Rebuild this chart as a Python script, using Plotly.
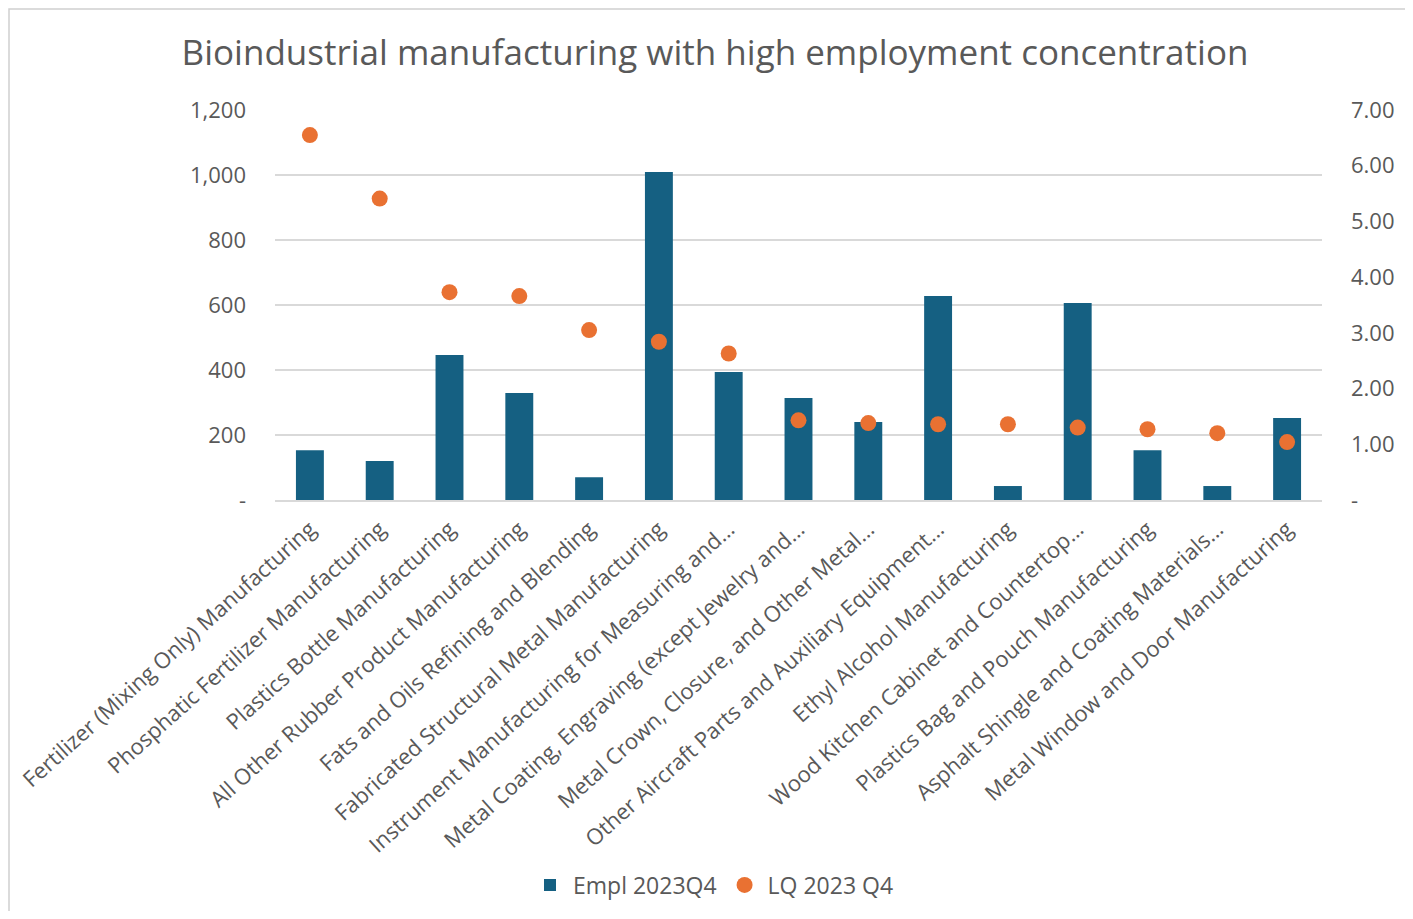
import plotly.graph_objects as go

categories = [
    "Fertilizer (Mixing Only) Manufacturing",
    "Phosphatic Fertilizer Manufacturing",
    "Plastics Bottle Manufacturing",
    "All Other Rubber Product Manufacturing",
    "Fats and Oils Refining and Blending",
    "Fabricated Structural Metal Manufacturing",
    "Instrument Manufacturing for Measuring and…",
    "Metal Coating, Engraving (except Jewelry and…",
    "Metal Crown, Closure, and Other Metal…",
    "Other Aircraft Parts and Auxiliary Equipment…",
    "Ethyl Alcohol Manufacturing",
    "Wood Kitchen Cabinet and Countertop…",
    "Plastics Bag and Pouch Manufacturing",
    "Asphalt Shingle and Coating Materials…",
    "Metal Window and Door Manufacturing",
]
empl_2023q4 = [153, 120, 446, 329, 70, 1009, 394, 314, 240, 628, 43, 606, 153, 43, 252]
lq_2023q4 = [6.55, 5.41, 3.73, 3.66, 3.05, 2.84, 2.63, 1.43, 1.38, 1.36, 1.36, 1.30, 1.27, 1.20, 1.04]

left_ticks = [0, 200, 400, 600, 800, 1000, 1200]
left_ticktext = ["-", "200", "400", "600", "800", "1,000", "1,200"]
right_ticks = [0, 1, 2, 3, 4, 5, 6, 7]
right_ticktext = ["-", "1.00", "2.00", "3.00", "4.00", "5.00", "6.00", "7.00"]

FONT = "Open Sans"
GRAY = "#595959"
OFF = 8  # page body margin
W, H = 1413 - 2 * OFF, 919 - 2 * OFF
# plot area in page px: x 275..1322, y 110..500
L = 275 - OFF
T = 110 - OFF
R = (OFF + W) - 1322
B = H - T - 390
PW, PH = W - L - R, H - T - B

fig = go.Figure()
fig.add_trace(go.Bar(
    x=categories, y=empl_2023q4, name="Empl 2023Q4",
    marker=dict(color="#156082", line=dict(width=0)),
    yaxis="y",
))
fig.add_trace(go.Scatter(
    x=categories, y=lq_2023q4, name="LQ 2023 Q4", mode="markers",
    marker=dict(color="#E97132", size=16),
    yaxis="y2",
))

def px2paper_x(px):
    return (px - OFF - L) / PW

def px2paper_y(py):
    return (T + PH - (py - OFF)) / PH

fig.update_layout(
    width=W, height=H,
    margin=dict(l=L, r=R, t=T, b=B, autoexpand=False),
    paper_bgcolor="white", plot_bgcolor="white",
    font=dict(family=FONT, color=GRAY, size=21),
    title=dict(
        text="Bioindustrial manufacturing with high employment concentration",
        x=px2paper_x(715), xref="paper", xanchor="center",
        y=1 - (53 - OFF) / H, yanchor="middle",
        font=dict(size=35, color=GRAY, family=FONT),
    ),
    bargap=0.6,
    showlegend=True,
    legend=dict(
        orientation="h", x=px2paper_x(713), xanchor="center",
        xref="paper", y=px2paper_y(885), yanchor="middle",
        font=dict(size=23, color=GRAY), itemwidth=36,
        traceorder="normal",
    ),
    xaxis=dict(
        range=[-0.5, len(categories) - 0.5],
        tickangle=-42, showgrid=False, showline=True,
        linecolor="#d9d9d9", linewidth=1.5, ticks="",
        ticklabelstandoff=6,
        tickfont=dict(size=22, color=GRAY),
    ),
    yaxis=dict(
        range=[0, 1200], tickvals=left_ticks, ticktext=left_ticktext,
        showgrid=True, gridcolor="#d9d9d9", gridwidth=1.5,
        zeroline=False, showline=False, ticks="",
        ticklabelstandoff=28,
        tickfont=dict(size=22, color=GRAY),
    ),
    yaxis2=dict(
        range=[0, 7], tickvals=right_ticks, ticktext=right_ticktext,
        overlaying="y", side="right", showgrid=False, zeroline=False,
        showline=False, ticks="", ticklabelstandoff=28,
        tickfont=dict(size=22, color=GRAY),
    ),
    shapes=[dict(
        type="rect", xref="paper", yref="paper",
        x0=px2paper_x(9), x1=px2paper_x(1440), y0=px2paper_y(960), y1=px2paper_y(9),
        line=dict(color="#d0d0d0", width=1.5), fillcolor="rgba(0,0,0,0)", layer="below",
    )],
)

fig.write_html("out.html")
